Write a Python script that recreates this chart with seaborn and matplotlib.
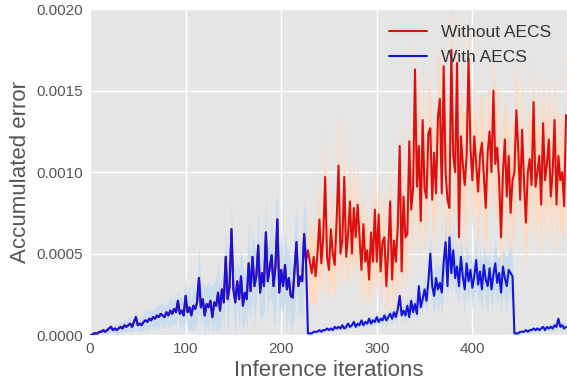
import numpy as np
import pandas as pd
import matplotlib
matplotlib.use("Agg")
import matplotlib.pyplot as plt
import seaborn as sns

UNIT = 1e-5  # values below are in units of 1e-5

# iterations sampled every 2 steps
iters = np.arange(0, 500, 2)

# "With AECS" mean accumulated error (x = 0..498)
with_aecs = [
    0, 0, 1, 1, 1, 2, 2, 3, 2, 3,
    4, 5, 3, 4, 3, 4, 5, 4, 6, 5,
    6, 7, 5, 8, 11, 6, 7, 6, 8, 9,
    8, 10, 9, 11, 10, 12, 11, 13, 12, 11,
    14, 12, 15, 13, 16, 14, 21, 13, 15, 12,
    24, 14, 17, 12, 18, 16, 20, 35, 17, 22,
    12, 19, 17, 21, 11, 20, 18, 26, 15, 28,
    20, 48, 22, 30, 65, 28, 20, 33, 22, 36,
    18, 26, 22, 44, 27, 48, 30, 36, 55, 26,
    38, 30, 63, 33, 41, 49, 30, 42, 71, 26,
    40, 30, 43, 28, 35, 24, 23, 40, 57, 30,
    36, 33, 62, 45,
    1, 1, 1, 2, 2, 2, 3, 2, 3, 3,
    4, 3, 4, 3, 5, 4, 5, 4, 6, 4,
    5, 7, 5, 6, 8, 5, 7, 6, 9, 6,
    8, 7, 10, 7, 9, 8, 11, 8, 10, 9,
    12, 9, 11, 13, 10, 14, 11, 16, 24, 12,
    15, 12, 18, 11, 21, 14, 19, 13, 30, 17,
    22, 28, 21, 33, 50, 30, 24, 35, 28, 32,
    26, 45, 57, 30, 60, 38, 52, 35, 42, 30,
    48, 36, 28, 44, 33, 40, 29, 36, 46, 31,
    39, 28, 43, 34, 30, 41, 28, 37, 44, 32,
    38, 26, 42, 35, 30, 40, 38, 36,
    1, 1, 1, 2, 2, 2, 3, 2, 3, 3,
    4, 3, 4, 3, 4, 5, 3, 5, 4, 5,
    4, 6, 5, 10, 5, 6, 4, 5,
]
with_spread = [
    0, 1, 1, 1, 1, 1, 2, 2, 2, 2, 3, 3, 2, 3, 3, 4, 3, 4, 4, 3, 4, 5, 4, 5, 6,
    4, 5, 4, 6, 5, 7, 5, 6, 5, 7, 6, 8, 6, 8, 7, 6, 8, 9, 7, 10, 8, 7, 10, 8, 11,
    12, 10, 14, 9, 16, 11, 14, 19, 12, 11, 17, 12, 15, 10, 19, 13, 16, 21, 14, 12, 18, 16, 24, 14, 19,
    15, 21, 12, 19, 17, 24, 14, 20, 26, 17, 19, 25, 15, 22, 18, 28, 17, 23, 20, 18, 26, 21, 38, 17, 20,
    23, 16, 20, 26, 17, 22, 18, 28, 23, 20, 19, 26, 21, 30,
    1, 1, 1, 1, 1, 1, 1, 1, 1, 1, 1, 1, 1, 2, 1, 1, 2, 1, 2, 1, 2, 2, 1, 2, 2, 2, 2, 2, 2, 3, 2, 2, 3, 2, 3, 2,
    3, 3, 2, 3, 3, 4, 3, 3, 4, 3, 4, 4, 3, 5, 4, 5, 6, 4, 5, 4, 6, 5, 7, 5, 6,
    8, 7, 10, 15, 11, 12, 10, 14, 11, 15, 12, 17, 11, 14, 12, 16, 10, 15, 12, 11, 14, 16, 12, 15, 11,
    14, 12, 15, 11, 16, 14, 12, 15, 17, 11, 14, 12, 16, 15, 11, 14, 12, 15, 17, 14, 16, 12,
    1, 1, 1, 1, 1, 1, 1, 1, 2, 1, 1, 2, 1, 2, 1, 2, 2, 1, 2, 2, 2, 3, 2, 2, 3, 2, 2, 2,
]

# "Without AECS" after the first AECS reset (x = 228..498); identical before it
reset_iter = 228
without_after = [
    52, 45, 38, 48, 36, 50, 71, 44, 60, 97,
    48, 40, 65, 50, 43, 70, 104, 50, 58, 97,
    48, 62, 82, 50, 78, 60, 80, 60, 40, 68,
    45, 52, 34, 63, 45, 77, 45, 74, 39, 57,
    60, 30, 52, 82, 34, 58, 45, 67, 116, 39,
    85, 60, 62, 119, 77, 90, 163, 91, 116, 70,
    132, 90, 84, 124, 127, 83, 112, 87, 134, 145,
    87, 165, 100, 83, 78, 175, 110, 100, 167, 60,
    122, 105, 92, 110, 170, 115, 95, 122, 105, 88,
    110, 118, 98, 78, 112, 125, 100, 150, 105, 115,
    95, 60, 100, 120, 85, 110, 75, 95, 100, 138,
    114, 83, 126, 95, 69, 100, 108, 92, 143, 91,
    100, 110, 80, 130, 95, 105, 120, 85, 100, 132,
    80, 110, 95, 100, 79, 135,
]
without_spread = [
    22, 26, 18, 29, 20, 24, 32, 19, 27, 36, 22, 18, 30, 25, 21, 28, 40, 22, 24, 35, 19, 27, 32, 21, 30, 24, 28, 18, 31, 22, 19, 27, 16, 25, 21, 30,
    22, 28, 19, 24, 27, 18, 30, 21, 33, 17, 25, 37, 21, 28, 41, 24, 31, 27, 25, 38, 30, 34, 44, 28, 36,
    30, 33, 39, 27, 36, 33, 28, 37, 31, 42, 30, 34, 40, 28, 45, 33, 27, 30, 43, 36, 31, 45, 25, 37, 33,
    30, 36, 28, 33, 39, 27, 34, 31, 37, 28, 25, 36, 33, 42, 30, 34, 39, 28, 36, 27, 33, 37, 30, 40, 31,
    28, 36, 33, 27, 39, 30, 34, 31, 37, 28, 42, 33, 30, 36, 28, 39, 31, 34, 27, 37, 30, 33, 36, 28, 39,
]

labels = ["Without AECS", "With AECS"]
x_ticks = [0, 100, 200, 300, 400]
y_ticks = [0.0, 0.0005, 0.0010, 0.0015, 0.0020]

# ---- build tables ----
w = np.array(with_aecs) * UNIT
ws = np.array(with_spread) * UNIT
n_before = int(np.sum(iters < reset_iter))
wo = np.concatenate([w[:n_before], np.array(without_after) * UNIT])
wo_x = iters[:len(wo)]
wo_after_x = iters[n_before:]
wo_after = np.array(without_after) * UNIT
wo_s = np.array(without_spread) * UNIT

df = pd.concat([
    pd.DataFrame({"iter": wo_x, "err": wo, "series": labels[0]}),
    pd.DataFrame({"iter": iters, "err": w, "series": labels[1]}),
])

sns.set_theme(style="darkgrid", rc={
    "axes.facecolor": "#E5E5E5",
    "grid.color": "white",
    "grid.linewidth": 1.0,
    "axes.edgecolor": "#E5E5E5",
})
plt.rcParams["font.family"] = ["Liberation Sans", "DejaVu Sans"]

fig, ax = plt.subplots(figsize=(5.67, 3.82), dpi=100)
fig.subplots_adjust(left=0.1587, right=1.0, top=0.976, bottom=0.123)

red = "#DD1010"
blue = "#1414DC"

ax.fill_between(wo_after_x, np.clip(wo_after - wo_s, 0, None), wo_after + wo_s,
                color="#FFDAC0", alpha=1.0, linewidth=0, zorder=1)
ax.fill_between(iters, np.clip(w - ws, 0, None), w + ws,
                color="#C6DCEF", alpha=0.85, linewidth=0, zorder=2)

sns.lineplot(data=df, x="iter", y="err", hue="series",
             palette={labels[0]: red, labels[1]: blue},
             linewidth=1.5, ax=ax, zorder=3, estimator=None)

ax.set_xlim(0, 499)
ax.set_ylim(0, 0.002)
ax.set_xticks(x_ticks)
ax.set_yticks(y_ticks)
ax.set_yticklabels([f"{v:.4f}" for v in y_ticks])
ax.tick_params(axis="both", length=0, labelsize=11, colors="#555555", pad=5)
ax.set_xlabel("Inference iterations", fontsize=16, color="#555555", labelpad=3)
ax.set_ylabel("Accumulated error", fontsize=16, color="#555555", labelpad=4)
for s in ax.spines.values():
    s.set_visible(False)

leg = ax.legend(loc="upper right", frameon=False, fontsize=12.5,
                labelspacing=0.55, handlelength=2.2)
for t in leg.get_texts():
    t.set_color("#333333")
for h in leg.get_lines():
    h.set_linewidth(1.5)

fig.savefig("out.png", dpi=100)
